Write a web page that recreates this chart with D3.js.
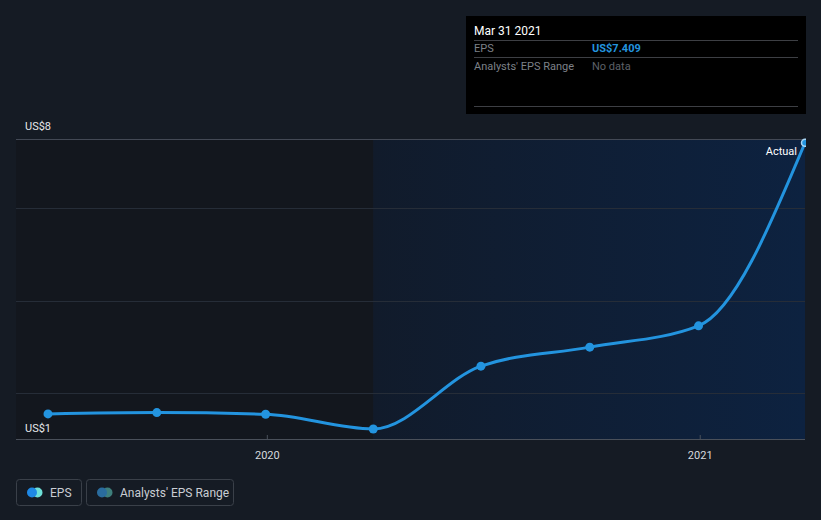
<!DOCTYPE html>
<html>
<head>
<meta charset="utf-8">
<script src="https://cdn.jsdelivr.net/npm/d3@7"></script>
<style>
html,body{margin:0;padding:0;background:#151b24;}
svg{display:block;font-family:Roboto,"Open Sans",sans-serif;}
</style>
</head>
<body>
<svg id="chart" width="821" height="520"></svg>
<script>
const dates = ["2019-06-30","2019-09-30","2019-12-31","2020-03-31","2020-06-30","2020-09-30","2020-12-31","2021-03-31"];
const eps = [1.552, 1.581, 1.546, 1.228, 2.584, 2.995, 3.455, 7.409];
const yTicks = [2, 4, 6];
const yEndLabels = ["US$1", "US$8"];
const xTickLabels = ["2020", "2021"];
const tooltipDate = "Mar 31 2021";
const tooltipRows = ["EPS", "Analysts' EPS Range"];
const tooltipValues = ["US$7.409", "No data"];
const legendLabels = ["EPS", "Analysts' EPS Range"];
const highlightStart = "2020-03-31";

(function(){
const parse = d3.utcParse("%Y-%m-%d");
const data = dates.map((d,i)=>({date:parse(d), v:eps[i]}));

const svg = d3.select("#chart");
const pL = 16, pR = 805, pT = 139, pB = 439;

const x = d3.scaleUtc()
  .domain([parse(dates[0]), parse(dates[dates.length-1])])
  .range([48, 805]);
const y = d3.scaleLinear().domain([1, 7.49]).range([pB + 0.5, pT]);

// backgrounds
const defs = svg.append("defs");
const grad = defs.append("linearGradient").attr("id","hl").attr("x1","0").attr("x2","1").attr("y1","0").attr("y2","0");
grad.append("stop").attr("offset","0").attr("stop-color","#111b2b");
grad.append("stop").attr("offset","1").attr("stop-color","#0d2240");
defs.append("clipPath").attr("id","clip").append("rect")
  .attr("x",0).attr("y",pT-10).attr("width",pR+1).attr("height",pB-pT+20);

const hx = x(parse(highlightStart));
svg.append("rect").attr("x",pL).attr("y",pT).attr("width",hx-pL).attr("height",pB-pT).attr("fill","#13171e");
svg.append("rect").attr("x",hx).attr("y",pT).attr("width",pR-hx).attr("height",pB-pT).attr("fill","url(#hl)");

// grid
svg.append("g").selectAll("line").data(yTicks).join("line")
  .attr("x1",pL).attr("x2",pR)
  .attr("y1",d=>Math.round(y(d))+0.5).attr("y2",d=>Math.round(y(d))+0.5)
  .attr("stroke","#262d38").attr("stroke-width",1);
svg.append("line").attr("x1",pL).attr("x2",pR).attr("y1",pT+0.5).attr("y2",pT+0.5)
  .attr("stroke","#434955").attr("stroke-width",1);

// x axis
const xAxis = d3.axisBottom(x)
  .tickValues(xTickLabels.map(t=>parse(t+"-01-01")))
  .tickFormat(d3.utcFormat("%Y"))
  .tickSize(5).tickSizeOuter(0);
const gx = svg.append("g").attr("transform",`translate(0,${pB})`).call(xAxis);
gx.select(".domain").remove();
gx.selectAll(".tick line").attr("stroke","#4a505a").attr("y1",-4).attr("y2",1);
gx.selectAll(".tick text").attr("fill","#d6d9de").attr("font-size",11).attr("dy","1.05em")
  .attr("font-family","Roboto,sans-serif");
svg.append("line").attr("x1",pL).attr("x2",pR).attr("y1",pB+0.5).attr("y2",pB+0.5)
  .attr("stroke","#4a505a").attr("stroke-width",1);

// y labels
svg.append("text").attr("x",25).attr("y",y(1)-8).text(yEndLabels[0])
  .attr("fill","#e6e8eb").attr("font-size",11);
svg.append("text").attr("x",25).attr("y",pT-9).text(yEndLabels[1])
  .attr("fill","#e6e8eb").attr("font-size",11);

// line
const g = svg.append("g").attr("clip-path","url(#clip)");
const line = d3.line().x(d=>x(d.date)).y(d=>y(d.v)).curve(d3.curveMonotoneX);
g.append("path").datum(data).attr("d",line).attr("fill","none")
  .attr("stroke","#2394df").attr("stroke-width",3);
g.append("g").selectAll("circle").data(data.slice(0,-1)).join("circle")
  .attr("cx",d=>x(d.date)).attr("cy",d=>y(d.v)).attr("r",4.5).attr("fill","#2394df");
const last = data[data.length-1];
g.append("circle").attr("cx",x(last.date)).attr("cy",y(last.v)).attr("r",3.5)
  .attr("fill","#2394df").attr("stroke","#a9d6f5").attr("stroke-width",1.5);
svg.append("text").attr("x",x(last.date)-8).attr("y",y(last.v)+12).attr("text-anchor","end")
  .text("Actual").attr("fill","#ffffff").attr("font-size",11);

// tooltip
const tt = svg.append("g");
tt.append("rect").attr("x",466).attr("y",16).attr("width",340).attr("height",98).attr("fill","#000000");
tt.append("text").attr("x",474).attr("y",35).text(tooltipDate).attr("fill","#ffffff").attr("font-size",12);
[40,57,106].forEach(yy=>tt.append("line").attr("x1",474).attr("x2",798).attr("y1",yy+0.5).attr("y2",yy+0.5).attr("stroke","#3d3f44"));
tooltipRows.forEach((r,i)=>{
  tt.append("text").attr("x",474).attr("y",52+i*17.5).text(r).attr("fill","#7d8188").attr("font-size",11);
});
tt.append("text").attr("x",592).attr("y",52).text(tooltipValues[0]).attr("fill","#2394df").attr("font-size",11).attr("font-weight",700);
tt.append("text").attr("x",592).attr("y",69.5).text(tooltipValues[1]).attr("fill","#5d6168").attr("font-size",11);

// legend
const lg = svg.append("g");
const boxes = [{x:16.5,w:65,c:["#1e88e5","#6ee0d8"]},{x:86.5,w:147,c:["#2a6c9e","#3e7f7c"]}];
boxes.forEach((b,i)=>{
  lg.append("rect").attr("x",b.x).attr("y",479.5).attr("width",b.w).attr("height",26).attr("rx",3)
    .attr("fill","none").attr("stroke","#3a4049");
  lg.append("circle").attr("cx",b.x+21).attr("cy",492.5).attr("r",5).attr("fill",b.c[1]);
  lg.append("circle").attr("cx",b.x+15.5).attr("cy",492.5).attr("r",5).attr("fill",b.c[0]);
  lg.append("text").attr("x",b.x+33.5).attr("y",497).text(legendLabels[i]).attr("fill","#c9cdd3").attr("font-size",12);
});
})();
</script>
</body>
</html>
